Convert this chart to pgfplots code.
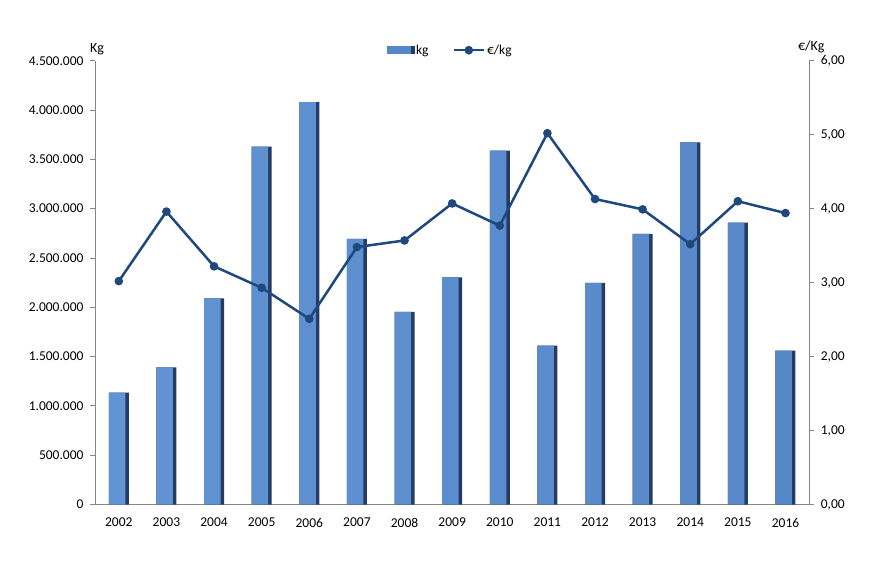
\documentclass[border=0pt]{standalone}
\usepackage{fontspec}
\setmainfont{Carlito}
\usepackage{pgfplots}
\pgfplotsset{compat=1.18}
\definecolor{barc}{RGB}{86,136,201}
\definecolor{barl}{RGB}{98,148,212}
\definecolor{bard}{RGB}{36,60,100}
\definecolor{linec}{RGB}{31,73,125}
\definecolor{axc}{RGB}{134,134,134}
\pgfplotsset{
  mylinelegend/.style={legend image code/.code={\draw[mark repeat=2,mark phase=2,##1] plot coordinates {(0pt,0pt) (15pt,0pt) (30pt,0pt)};}},
  mybarlegend/.style={legend image code/.code={\fill[barc] (0pt,-3.5pt) rectangle (24pt,3.5pt); \fill[bard] (24pt,-3.5pt) rectangle (27pt,3.5pt);}},
}
\begin{document}
\begin{tikzpicture}
\path[use as bounding box] (0,0) rectangle (892pt,560pt);
\begin{axis}[
  at={(95pt,55.5pt)}, anchor=south west,
  scale only axis, width=714.3pt, height=443.8pt,
  xmin=-0.5, xmax=14.5, ymin=0, ymax=4500000,
  axis y line*=left, axis x line*=bottom,
  axis line style={axc, line width=0.8pt, -},
  xtick={0,1,2,3,4,5,6,7,8,9,10,11,12,13,14},
  xticklabels={2002,2003,2004,2005,2006,2007,2008,2009,2010,2011,2012,2013,2014,2015,2016},
  x tick style={draw=none},
  xticklabel style={yshift=-5pt},
  ytick={0,500000,1000000,1500000,2000000,2500000,3000000,3500000,4000000,4500000},
  y tick style={axc, line width=0.8pt},
  tick align=outside, major tick length=5pt,
  scaled y ticks=false,
  yticklabel style={xshift=-3pt, /pgf/number format/.cd, fixed, precision=0, 1000 sep={.}, assume math mode=true},
  tick label style={font=\fontsize{13.5}{15}\selectfont, black},
  legend columns=2,
  legend style={draw=none, fill=none, at={(0.5,1)}, anchor=center, yshift=10.5pt, xshift=-2pt,
    font=\fontsize{13.5}{15}\selectfont,
    /tikz/every even column/.append style={column sep=22pt}},
  clip=false,
]
\addplot[ybar, bar width=20pt, bar shift=0pt, fill=bard, draw=none, forget plot] coordinates {
(0,1134000) (1,1391000) (2,2091000) (3,3629000) (4,4079000) (5,2693000) (6,1952000) (7,2304000)
(8,3588000) (9,1611000) (10,2246000) (11,2743000) (12,3673000) (13,2858000) (14,1560000)};
\addplot[ybar, bar width=16.5pt, bar shift=-1.75pt, draw=none, left color=barl, right color=barc, forget plot] coordinates {
(0,1134000) (1,1391000) (2,2091000) (3,3629000) (4,4079000) (5,2693000) (6,1952000) (7,2304000)
(8,3588000) (9,1611000) (10,2246000) (11,2743000) (12,3673000) (13,2858000) (14,1560000)};
\addlegendimage{mybarlegend}
\addlegendentry{kg}
\addlegendimage{linec, line width=2.5pt, mark=*, mark size=3pt, mylinelegend}
\addlegendentry{€/kg}
\node[anchor=base, font=\fontsize{14}{15}\selectfont] at ([xshift=2pt,yshift=8pt]rel axis cs:0,1) {Kg};
\node[anchor=base, font=\fontsize{14}{15}\selectfont] at ([xshift=2pt,yshift=10.5pt]rel axis cs:1,1) {€/Kg};
\end{axis}
\begin{axis}[
  at={(95pt,55.5pt)}, anchor=south west,
  scale only axis, width=714.3pt, height=443.8pt,
  xmin=-0.5, xmax=14.5, ymin=0, ymax=6,
  axis y line*=right, axis x line=none,
  axis line style={axc, line width=0.8pt, -},
  ytick={0,1,2,3,4,5,6},
  y tick style={axc, line width=0.8pt},
  tick align=outside, major tick length=5pt,
  yticklabel style={xshift=3pt, /pgf/number format/.cd, fixed, fixed zerofill, precision=2, use comma, assume math mode=true},
  tick label style={font=\fontsize{13.5}{15}\selectfont, black},
  clip=false,
]
\addplot[linec, line width=2.5pt, mark=*, mark size=3pt] coordinates {
(0,3.02) (1,3.96) (2,3.22) (3,2.93) (4,2.51) (5,3.48) (6,3.57) (7,4.07)
(8,3.77) (9,5.02) (10,4.13) (11,3.99) (12,3.52) (13,4.10) (14,3.94)};
\end{axis}
\end{tikzpicture}
\end{document}
